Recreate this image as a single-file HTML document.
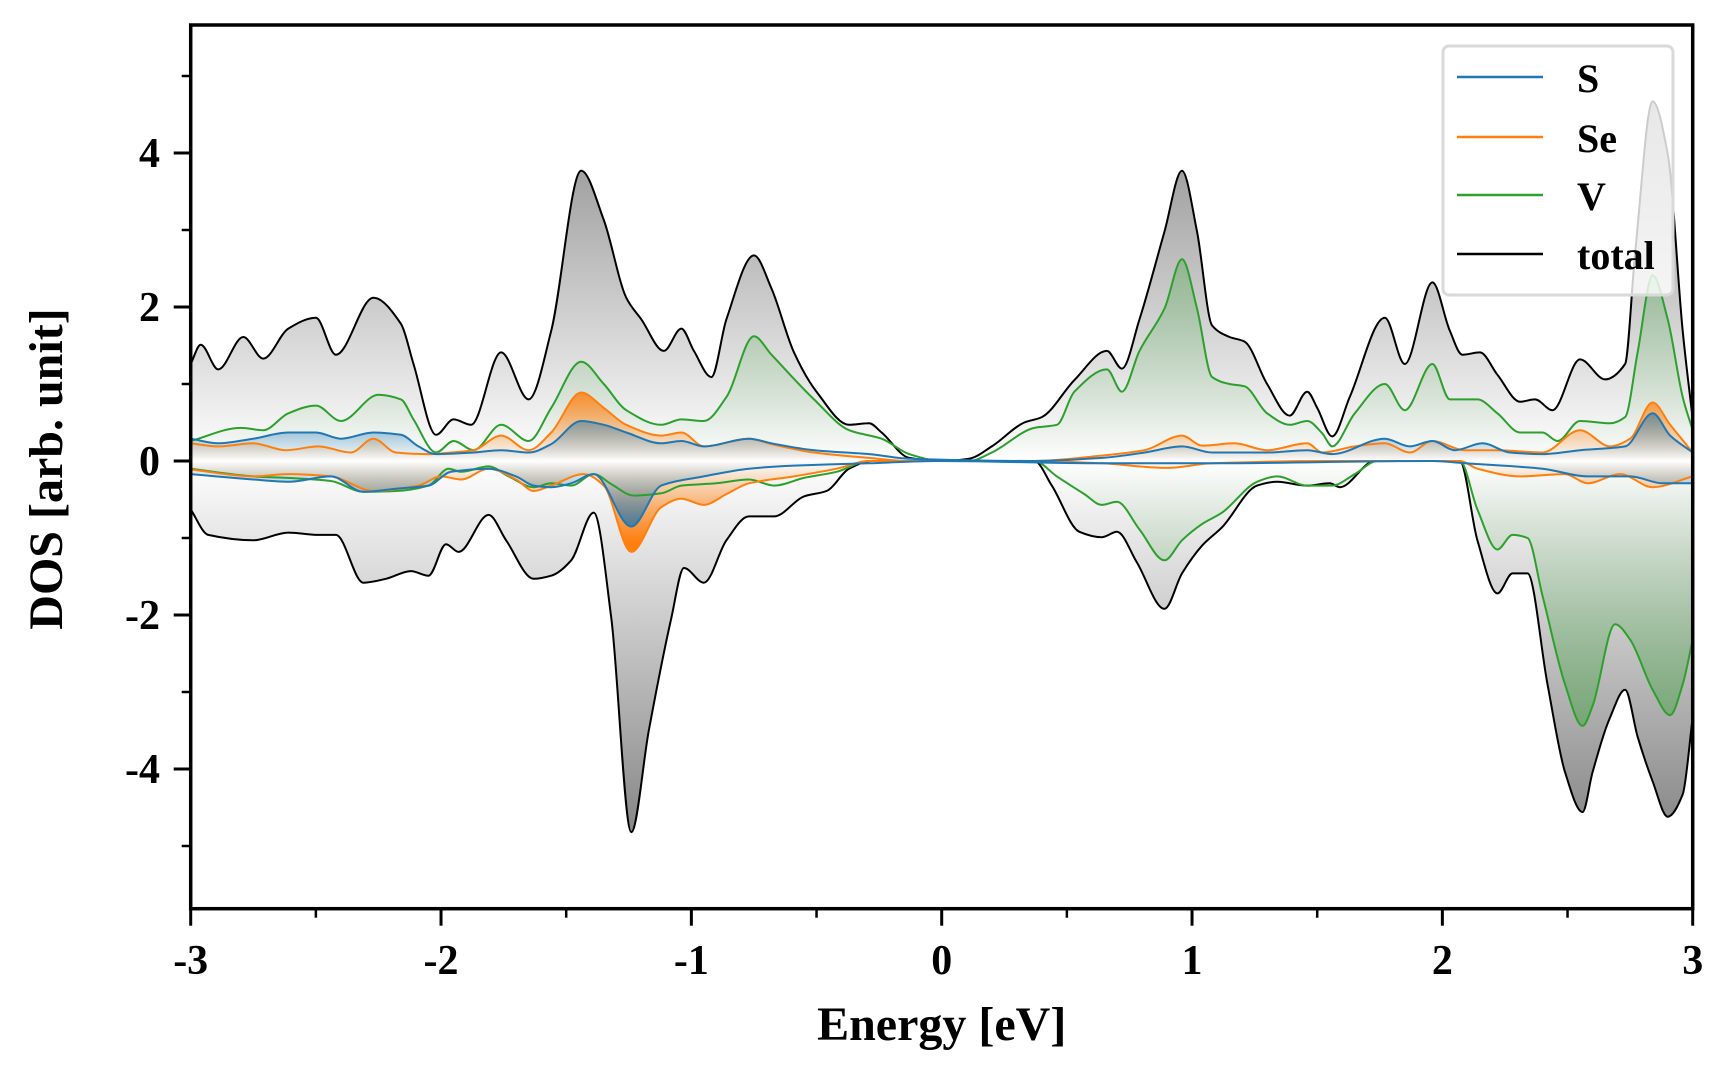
<!DOCTYPE html>
<html><head><meta charset="utf-8"><style>
html,body{margin:0;padding:0;background:#fff;}
svg{display:block;font-family:"Liberation Serif",serif;font-weight:bold;}
</style></head><body>
<svg id="chart" width="1728" height="1080" viewBox="0 0 1728 1080" xmlns="http://www.w3.org/2000/svg">
<defs>
<linearGradient id="gTot" gradientUnits="userSpaceOnUse" x1="0" y1="100" x2="0" y2="822">
<stop offset="0" stop-color="#8a8a8a"/><stop offset="0.5" stop-color="#ffffff"/><stop offset="1" stop-color="#8a8a8a"/></linearGradient>
<linearGradient id="gV" gradientUnits="userSpaceOnUse" x1="0" y1="100" x2="0" y2="822">
<stop offset="0" stop-color="#2ca02c" stop-opacity="0.55"/><stop offset="0.5" stop-color="#2ca02c" stop-opacity="0"/><stop offset="1" stop-color="#2ca02c" stop-opacity="0.55"/></linearGradient>
<linearGradient id="gSe" gradientUnits="userSpaceOnUse" x1="0" y1="380" x2="0" y2="542">
<stop offset="0" stop-color="#ff7f0e" stop-opacity="1"/><stop offset="0.5" stop-color="#ff7f0e" stop-opacity="0"/><stop offset="1" stop-color="#ff7f0e" stop-opacity="1"/></linearGradient>
<linearGradient id="gS" gradientUnits="userSpaceOnUse" x1="0" y1="400" x2="0" y2="522">
<stop offset="0" stop-color="#1f77b4" stop-opacity="0.75"/><stop offset="0.5" stop-color="#1f77b4" stop-opacity="0"/><stop offset="1" stop-color="#1f77b4" stop-opacity="0.75"/></linearGradient>
<clipPath id="clip"><rect x="190.7" y="25" width="1502" height="883.7"/></clipPath>
</defs>
<g id="plot" clip-path="url(#clip)"></g>
<g id="axes"></g>
</svg>
<script>
const totUpE=[-3,-2.96,-2.89,-2.79,-2.71,-2.61,-2.5,-2.42,-2.27,-2.16,-2.11,-2.02,-1.95,-1.88,-1.76,-1.65,-1.56,-1.44,-1.35,-1.26,-1.2,-1.11,-1.04,-0.99,-0.92,-0.86,-0.75,-0.68,-0.59,-0.5,-0.37,-0.29,-0.24,-0.13,0,0.11,0.2,0.33,0.4,0.53,0.66,0.72,0.79,0.89,0.96,1.02,1.08,1.15,1.21,1.3,1.39,1.46,1.5,1.56,1.63,1.77,1.85,1.96,2.03,2.08,2.15,2.22,2.31,2.37,2.44,2.55,2.65,2.73,2.77,2.84,2.9,2.96,3];
const totUpV=[1.26,1.51,1.19,1.61,1.33,1.72,1.86,1.38,2.12,1.78,1.26,0.34,0.54,0.47,1.41,0.8,1.69,3.77,3.13,2.12,1.84,1.43,1.72,1.43,1.09,1.84,2.67,2.24,1.41,0.9,0.47,0.49,0.37,0.04,0,0.03,0.19,0.5,0.57,1.05,1.43,1.2,1.84,2.98,3.77,2.98,1.76,1.61,1.55,1.0,0.59,0.9,0.69,0.32,0.83,1.86,1.26,2.32,1.69,1.38,1.41,1.12,0.77,0.8,0.66,1.32,1.06,1.26,2.7,4.67,3.99,1.69,0.54];
const totDnE=[-3,-2.93,-2.75,-2.61,-2.49,-2.42,-2.31,-2.22,-2.12,-2.05,-1.98,-1.93,-1.81,-1.74,-1.63,-1.56,-1.48,-1.39,-1.32,-1.24,-1.17,-1.08,-1.03,-0.95,-0.86,-0.77,-0.67,-0.55,-0.46,-0.37,-0.28,0.37,0.44,0.55,0.64,0.7,0.78,0.89,0.96,1.04,1.12,1.26,1.34,1.46,1.55,1.59,1.73,2.07,2.14,2.22,2.28,2.34,2.42,2.49,2.56,2.6,2.67,2.73,2.78,2.84,2.9,2.96,3];
const totDnV=[-0.63,-0.96,-1.03,-0.93,-0.96,-0.96,-1.58,-1.53,-1.43,-1.49,-1.08,-1.18,-0.7,-1.03,-1.53,-1.49,-1.29,-0.67,-2.04,-4.82,-3.5,-2.04,-1.39,-1.58,-1.03,-0.72,-0.72,-0.46,-0.39,-0.1,0,0,-0.32,-0.92,-0.99,-0.92,-1.32,-1.92,-1.46,-1.1,-0.86,-0.32,-0.27,-0.32,-0.29,-0.34,0,0,-1.03,-1.72,-1.46,-1.46,-2.9,-4.04,-4.56,-4.04,-3.33,-2.97,-3.58,-4.16,-4.62,-4.33,-3.33];
const vUpE=[-3,-2.8,-2.71,-2.61,-2.5,-2.4,-2.25,-2.16,-2.11,-2.02,-1.95,-1.87,-1.76,-1.65,-1.56,-1.44,-1.35,-1.26,-1.12,-1.04,-0.95,-0.86,-0.75,-0.68,-0.51,-0.37,-0.24,-0.13,0,0.11,0.2,0.37,0.46,0.53,0.66,0.72,0.79,0.89,0.96,1.02,1.08,1.15,1.21,1.3,1.39,1.46,1.52,1.56,1.65,1.77,1.85,1.96,2.03,2.14,2.22,2.31,2.4,2.46,2.55,2.67,2.73,2.78,2.84,2.9,2.96,3];
const vUpV=[0.26,0.43,0.4,0.62,0.72,0.52,0.86,0.8,0.54,0.11,0.26,0.14,0.47,0.26,0.69,1.29,1.0,0.66,0.47,0.54,0.52,0.83,1.62,1.38,0.8,0.4,0.29,0.09,0,0,0.11,0.43,0.47,0.9,1.19,0.9,1.43,1.98,2.62,1.98,1.09,1.0,0.97,0.62,0.47,0.52,0.36,0.19,0.62,1.0,0.66,1.26,0.8,0.8,0.62,0.37,0.37,0.26,0.52,0.49,0.57,1.41,2.41,1.84,0.83,0.4];
const vDnE=[-3,-2.75,-2.61,-2.44,-2.31,-2.18,-2.05,-1.97,-1.92,-1.81,-1.73,-1.63,-1.56,-1.48,-1.39,-1.32,-1.23,-1.12,-1.04,-0.9,-0.77,-0.67,-0.55,-0.42,-0.29,0.37,0.46,0.57,0.64,0.7,0.79,0.89,0.96,1.04,1.12,1.26,1.34,1.46,1.56,1.65,1.74,2.07,2.14,2.22,2.28,2.34,2.4,2.49,2.56,2.6,2.69,2.75,2.84,2.91,2.96,3];
const vDnV=[-0.1,-0.2,-0.22,-0.26,-0.4,-0.39,-0.32,-0.1,-0.14,-0.07,-0.2,-0.34,-0.29,-0.32,-0.17,-0.3,-0.45,-0.42,-0.32,-0.29,-0.24,-0.32,-0.22,-0.14,0,0,-0.2,-0.43,-0.57,-0.53,-0.89,-1.29,-1.03,-0.82,-0.67,-0.27,-0.2,-0.32,-0.32,-0.17,0,0,-0.63,-1.15,-0.96,-1.0,-1.75,-2.9,-3.44,-3.18,-2.12,-2.32,-2.97,-3.3,-2.9,-2.32];
const seUpE=[-3,-2.89,-2.75,-2.62,-2.49,-2.36,-2.27,-2.18,-2.05,-1.96,-1.87,-1.76,-1.65,-1.56,-1.44,-1.35,-1.26,-1.12,-1.04,-0.95,-0.77,-0.68,-0.51,-0.29,-0.13,0.37,0.64,0.81,0.96,1.04,1.17,1.3,1.46,1.52,1.65,1.77,1.87,1.96,2.09,2.22,2.4,2.55,2.67,2.75,2.84,2.91,3];
const seUpV=[0.23,0.19,0.23,0.14,0.19,0.11,0.29,0.11,0.09,0.11,0.14,0.33,0.14,0.37,0.89,0.69,0.47,0.33,0.37,0.19,0.29,0.22,0.11,0.04,0,0,0.07,0.14,0.33,0.2,0.23,0.14,0.23,0.11,0.19,0.23,0.11,0.26,0.14,0.14,0.11,0.4,0.19,0.29,0.76,0.47,0.11];
const seDnE=[-3,-2.75,-2.61,-2.44,-2.27,-2.09,-2.0,-1.92,-1.81,-1.7,-1.63,-1.56,-1.43,-1.35,-1.24,-1.12,-1.04,-0.95,-0.86,-0.77,-0.59,-0.42,-0.29,0.37,0.64,0.9,1.08,1.52,1.74,2.07,2.14,2.31,2.49,2.58,2.71,2.84,3];
const seDnV=[-0.11,-0.2,-0.17,-0.2,-0.39,-0.32,-0.2,-0.24,-0.1,-0.24,-0.39,-0.32,-0.17,-0.32,-1.18,-0.6,-0.49,-0.57,-0.43,-0.29,-0.2,-0.1,0,0,-0.03,-0.09,-0.03,0,0,0,-0.1,-0.2,-0.17,-0.29,-0.17,-0.34,-0.2];
const sUpE=[-3,-2.89,-2.75,-2.61,-2.5,-2.4,-2.27,-2.16,-2.09,-2.02,-1.87,-1.76,-1.65,-1.56,-1.44,-1.35,-1.26,-1.12,-1.04,-0.95,-0.77,-0.68,-0.51,-0.29,-0.13,0.37,0.64,0.81,0.96,1.08,1.3,1.46,1.56,1.77,1.87,1.96,2.05,2.16,2.27,2.4,2.55,2.73,2.84,2.91,3];
const sUpV=[0.29,0.23,0.29,0.37,0.37,0.29,0.37,0.34,0.19,0.09,0.11,0.14,0.11,0.22,0.52,0.47,0.37,0.23,0.26,0.19,0.29,0.23,0.14,0.09,0.03,0,0.04,0.11,0.19,0.11,0.11,0.14,0.09,0.29,0.19,0.26,0.14,0.23,0.11,0.09,0.14,0.19,0.62,0.33,0.11];
const sDnE=[-3,-2.75,-2.61,-2.44,-2.31,-2.18,-2.05,-1.96,-1.81,-1.7,-1.63,-1.56,-1.48,-1.39,-1.24,-1.12,-0.95,-0.77,-0.59,-0.29,-0.02,0.64,1.08,1.96,2.09,2.4,2.58,2.75,2.88,3];
const sDnV=[-0.17,-0.24,-0.27,-0.2,-0.4,-0.36,-0.32,-0.14,-0.1,-0.2,-0.32,-0.34,-0.29,-0.17,-0.85,-0.32,-0.2,-0.1,-0.06,-0.03,0,-0.03,-0.03,0,-0.03,-0.1,-0.2,-0.2,-0.29,-0.29];
const xTicks=[-3,-2,-1,0,1,2,3];
const xTickLabels=["-3","-2","-1","0","1","2","3"];
const yTicks=[-4,-2,0,2,4];
const yTickLabels=["-4","-2","0","2","4"];

const L=190.7,R=1692.7,T=25,B=908.7,Y0=461,PY=77;
const xs=e=>L+(e+3)/6*(R-L);
const ys=v=>Y0-v*PY;
const NS="http://www.w3.org/2000/svg";
function mk(tag,attrs,parent){const el=document.createElementNS(NS,tag);for(const k in attrs)el.setAttribute(k,attrs[k]);parent.appendChild(el);return el;}
function pathD(E,V){
  const p=E.map((e,i)=>[xs(e),ys(V[i])]);const n=p.length;
  const m=[];const d=[];
  for(let i=0;i<n-1;i++)d.push((p[i+1][1]-p[i][1])/(p[i+1][0]-p[i][0]));
  for(let i=0;i<n;i++){
    if(i===0)m.push(d[0]);else if(i===n-1)m.push(d[n-2]);
    else m.push(d[i-1]*d[i]<=0?0:2/(1/d[i-1]+1/d[i]));
  }
  let s="M"+p[0][0].toFixed(1)+","+p[0][1].toFixed(1);
  for(let i=0;i<n-1;i++){const h=(p[i+1][0]-p[i][0])/3;
    s+="C"+(p[i][0]+h).toFixed(1)+","+(p[i][1]+m[i]*h).toFixed(1)+" "+(p[i+1][0]-h).toFixed(1)+","+(p[i+1][1]-m[i+1]*h).toFixed(1)+" "+p[i+1][0].toFixed(1)+","+p[i+1][1].toFixed(1);}
  return s;
}
const plot=document.getElementById('plot');
const axes=document.getElementById('axes');
const series=[
 ['total-up',totUpE,totUpV,'#000','url(#gTot)'],['total-down',totDnE,totDnV,'#000','url(#gTot)'],
 ['v-up',vUpE,vUpV,'#2ca02c','url(#gV)'],['v-down',vDnE,vDnV,'#2ca02c','url(#gV)'],
 ['se-up',seUpE,seUpV,'#ff7f0e','url(#gSe)'],['se-down',seDnE,seDnV,'#ff7f0e','url(#gSe)'],
 ['s-up',sUpE,sUpV,'#1f77b4','url(#gS)'],['s-down',sDnE,sDnV,'#1f77b4','url(#gS)']];
for(const [nm,E,V,c,f] of series){
  const d=pathD(E,V);
  const fa=mk('path',{d:d+"L"+xs(E[E.length-1]).toFixed(1)+","+Y0+"L"+xs(E[0]).toFixed(1)+","+Y0+"Z",fill:f,stroke:'none'},plot);
  
  
}
for(const [nm,E,V,c,f] of series){
  const ln=mk('path',{d:pathD(E,V),fill:'none',stroke:c,'stroke-width':2},plot);
  
  
}
const fr=mk('rect',{x:L,y:T,width:R-L,height:B-T,fill:'none',stroke:'#000','stroke-width':3.5},axes);


xTicks.forEach((t,i)=>{
  const tk=mk('line',{x1:xs(t),x2:xs(t),y1:B,y2:B+17,stroke:'#000','stroke-width':3},axes);
  
  
  const tx=mk('text',{x:xs(t),y:974,'text-anchor':'middle','font-size':42},axes);
  tx.textContent=xTickLabels[i];
  
  
  if(i<xTicks.length-1){const mt=mk('line',{x1:xs(t+0.5),x2:xs(t+0.5),y1:B,y2:B+9,stroke:'#000','stroke-width':2.5},axes);
    
    }
});
for(let v=-5;v<=5;v++){
  const major=v%2===0;
  const tk=mk('line',{x1:L,x2:L-(major?17:9),y1:ys(v),y2:ys(v),stroke:'#000','stroke-width':major?3:2.5},axes);
  
  
}
yTicks.forEach((t,i)=>{
  const tx=mk('text',{x:160,y:ys(t)+14,'text-anchor':'end','font-size':42},axes);
  tx.textContent=yTickLabels[i];
  
  
});
const xt=mk('text',{x:(L+R)/2,y:1040,'text-anchor':'middle','font-size':48},axes);
xt.textContent='Energy [eV]';


const yt=mk('text',{x:0,y:0,'text-anchor':'middle','font-size':48,transform:'translate(62,469) rotate(-90)'},axes);
yt.textContent='DOS [arb. unit]';


const lg=mk('g',{},axes);


mk('rect',{x:1443,y:46,width:230,height:249,rx:6,fill:'#fff','fill-opacity':0.8,stroke:'#d9d9d9','stroke-width':3},lg);
const legNames=['S','Se','V','total'];
const legColors=['#1f77b4','#ff7f0e','#2ca02c','#000'];
const legY=[77,137,195,254];
legNames.forEach((n,i)=>{
  const ln=mk('line',{x1:1457,x2:1543,y1:legY[i],y2:legY[i],stroke:legColors[i],'stroke-width':2.5},lg);
  
  
  const tx=mk('text',{x:1577,y:legY[i]+15,'font-size':40},lg);
  tx.textContent=n;
  
  
});
</script>
</body></html>
